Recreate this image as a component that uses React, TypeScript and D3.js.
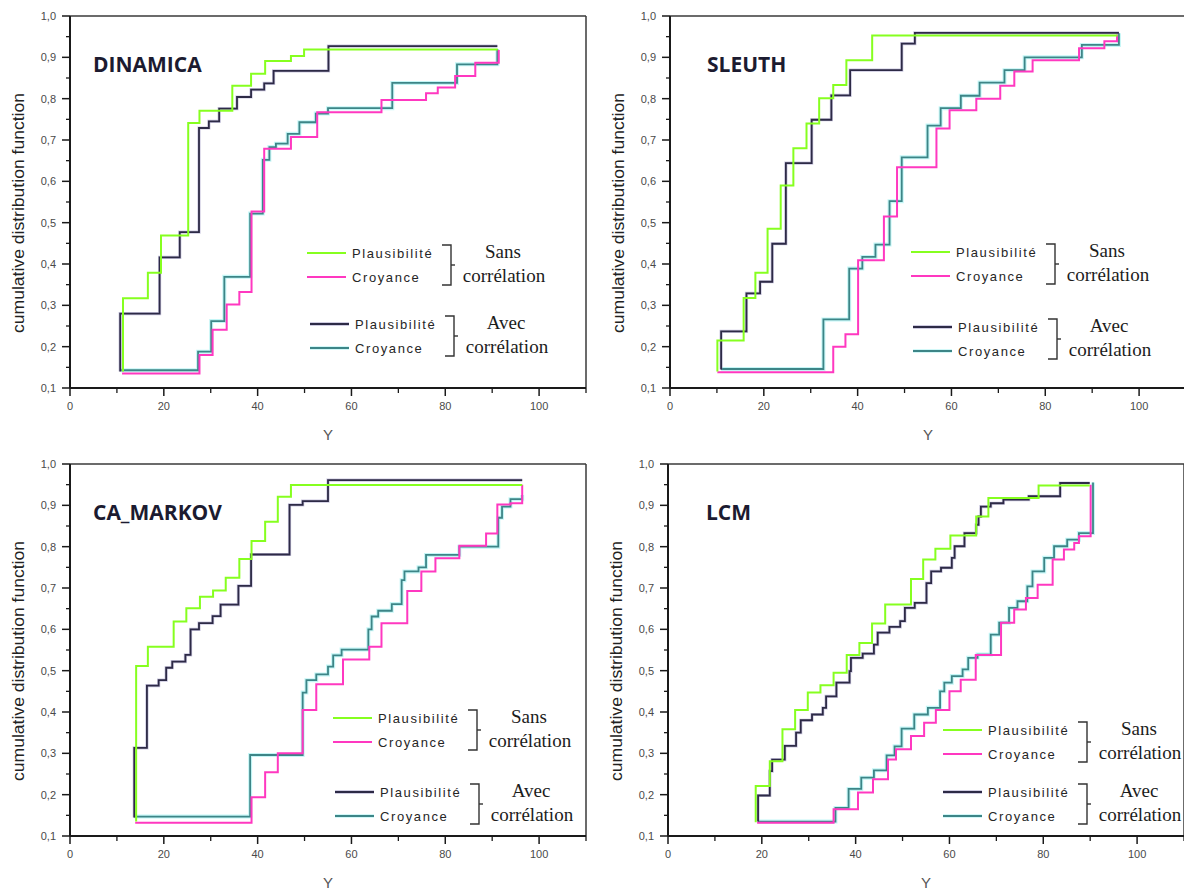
import React from 'react';
import * as d3 from 'd3';

type Pt = [number, number];

// ---- axis ticks ----
const xMajorTicks = [0, 20, 40, 60, 80, 100];
const xMinorTicks = [10, 30, 50, 70, 90, 110];
const yMajorTicks = [0.1, 0.2, 0.3, 0.4, 0.5, 0.6, 0.7, 0.8, 0.9, 1.0];
const yMinorTicks = [0.15, 0.25, 0.35, 0.45, 0.55, 0.65, 0.75, 0.85, 0.95];

// ---- labels ----
const panelTitles = ['DINAMICA', 'SLEUTH', 'CA_MARKOV', 'LCM'];
const seriesNames = ['Plausibilité', 'Croyance'];
const groupLabels = [['Sans', 'corrélation'], ['Avec', 'corrélation']];
const yAxisTitle = 'cumulative distribution function';
const xAxisTitle = 'Y';

// ---- DINAMICA ----
const dinamicaPlausSans: Pt[] = [[11.3, 0.14], [11.3, 0.317], [16.6, 0.379], [19.4, 0.469], [25.2, 0.741], [27.6, 0.771], [34.6, 0.831], [38.6, 0.86], [41.6, 0.891], [47.1, 0.903], [49.9, 0.919], [91.2, 0.919]];
const dinamicaCroySans: Pt[] = [[11.1, 0.135], [27.6, 0.18], [30.4, 0.241], [33.4, 0.302], [36.1, 0.332], [38.7, 0.527], [41.4, 0.679], [47.1, 0.707], [52.7, 0.767], [66.4, 0.797], [75.9, 0.813], [78.4, 0.827], [82.1, 0.855], [86.4, 0.887], [91.4, 0.918]];
const dinamicaPlausAvec: Pt[] = [[10.7, 0.14], [10.7, 0.28], [19.1, 0.416], [23.4, 0.477], [27.5, 0.729], [29.6, 0.745], [31.8, 0.776], [35.6, 0.804], [38.6, 0.822], [41.4, 0.837], [43.4, 0.867], [55.1, 0.927], [91.1, 0.927]];
const dinamicaCroyAvec: Pt[] = [[10.9, 0.143], [27.3, 0.188], [30.1, 0.262], [32.9, 0.369], [38.4, 0.522], [41.1, 0.652], [42.5, 0.683], [43.9, 0.691], [46.4, 0.715], [48.9, 0.743], [52.4, 0.764], [55, 0.777], [68.7, 0.838], [82.5, 0.883], [91.1, 0.92]];

// ---- SLEUTH ----
const sleuthPlausSans: Pt[] = [[10.1, 0.14], [10.1, 0.215], [15.7, 0.318], [18.2, 0.379], [20.8, 0.485], [23.6, 0.59], [26.3, 0.68], [29.1, 0.74], [31.8, 0.801], [34.8, 0.833], [37.6, 0.893], [43.1, 0.953], [95.4, 0.953]];
const sleuthCroySans: Pt[] = [[10.1, 0.138], [34.8, 0.2], [37.4, 0.23], [40.1, 0.409], [45.6, 0.515], [48.4, 0.634], [56.8, 0.728], [59.6, 0.772], [65.3, 0.8], [70.4, 0.831], [73.4, 0.866], [77.3, 0.893], [87.2, 0.922], [92.6, 0.939], [95.3, 0.955]];
const sleuthPlausAvec: Pt[] = [[10.9, 0.145], [10.9, 0.237], [16.3, 0.329], [19.2, 0.357], [21.8, 0.449], [24.7, 0.644], [30.2, 0.749], [34.4, 0.808], [38.4, 0.869], [49.4, 0.933], [52.2, 0.959], [95.7, 0.959]];
const sleuthCroyAvec: Pt[] = [[10.9, 0.146], [32.7, 0.266], [38.2, 0.389], [41.0, 0.417], [43.8, 0.447], [46.8, 0.552], [49.4, 0.658], [54.9, 0.735], [57.7, 0.777], [62.0, 0.807], [66.0, 0.839], [71.3, 0.869], [75.6, 0.9], [87.8, 0.93], [95.7, 0.958]];

// ---- CA_MARKOV ----
const markovPlausSans: Pt[] = [[14.1, 0.135], [14.1, 0.511], [16.6, 0.558], [22.1, 0.619], [24.8, 0.651], [27.7, 0.679], [30.5, 0.694], [33.2, 0.725], [36.1, 0.77], [38.7, 0.814], [41.6, 0.86], [44.3, 0.921], [47.1, 0.949], [96.4, 0.949]];
const markovCroySans: Pt[] = [[13.9, 0.132], [38.7, 0.194], [41.6, 0.254], [44.3, 0.3], [49.6, 0.405], [52.5, 0.467], [58.2, 0.527], [63.8, 0.558], [66.4, 0.615], [71.9, 0.693], [74.9, 0.74], [77.9, 0.772], [83.0, 0.802], [88.7, 0.832], [91.1, 0.902], [93.9, 0.905], [96.4, 0.95]];
const markovPlausAvec: Pt[] = [[13.7, 0.145], [13.7, 0.313], [16.4, 0.464], [18.9, 0.477], [20.5, 0.507], [21.8, 0.522], [24.6, 0.538], [25.7, 0.6], [27.5, 0.615], [30.4, 0.632], [32.1, 0.66], [35.9, 0.705], [38.6, 0.781], [46.8, 0.901], [49.6, 0.91], [55.0, 0.961], [96.4, 0.961]];
const markovCroyAvec: Pt[] = [[13.7, 0.147], [38.4, 0.296], [49.6, 0.447], [50.4, 0.477], [52.5, 0.491], [55.0, 0.51], [56.1, 0.537], [57.9, 0.551], [63.6, 0.6], [64.3, 0.631], [65.7, 0.645], [68.6, 0.661], [70.7, 0.719], [71.3, 0.74], [74.3, 0.75], [75.9, 0.78], [83.0, 0.8], [91.3, 0.87], [92.1, 0.897], [93.9, 0.915], [96.4, 0.925]];

// ---- LCM ----
const lcmPlausSans: Pt[] = [[18.7, 0.133], [18.7, 0.221], [21.7, 0.281], [24.4, 0.358], [27.1, 0.405], [29.8, 0.447], [32.5, 0.465], [35.3, 0.495], [38.1, 0.538], [40.8, 0.567], [43.5, 0.614], [46.3, 0.66], [51.8, 0.722], [54.4, 0.769], [57.0, 0.795], [60.2, 0.827], [65.7, 0.873], [68.3, 0.918], [79.0, 0.948], [89.9, 0.948]];
const lcmCroySans: Pt[] = [[19.0, 0.132], [35.3, 0.165], [40.5, 0.205], [43.7, 0.237], [46.9, 0.285], [48.6, 0.31], [51.8, 0.342], [54.6, 0.374], [57.1, 0.405], [60.0, 0.45], [62.4, 0.478], [65.6, 0.538], [71.0, 0.616], [73.8, 0.648], [76.3, 0.676], [78.8, 0.708], [82.0, 0.769], [84.4, 0.793], [86.6, 0.809], [87.6, 0.825], [90.1, 0.95]];
const lcmPlausAvec: Pt[] = [[19.2, 0.135], [19.2, 0.198], [21.7, 0.257], [22.2, 0.285], [24.9, 0.318], [27.3, 0.35], [28.3, 0.38], [30.7, 0.394], [33.0, 0.41], [33.7, 0.438], [35.9, 0.471], [38.7, 0.499], [39.0, 0.531], [41.5, 0.541], [43.9, 0.563], [44.7, 0.592], [47.2, 0.606], [49.5, 0.62], [50.5, 0.652], [52.6, 0.664], [55.1, 0.712], [56.1, 0.74], [58.2, 0.749], [60.5, 0.773], [61.1, 0.801], [63.2, 0.833], [65.7, 0.853], [66.2, 0.873], [66.7, 0.897], [68.8, 0.905], [71.5, 0.914], [76.9, 0.922], [83.6, 0.954], [89.9, 0.954]];
const lcmCroyAvec: Pt[] = [[19.2, 0.135], [35.7, 0.168], [38.5, 0.214], [41.2, 0.241], [43.9, 0.259], [46.6, 0.295], [48.3, 0.317], [49.8, 0.36], [52.5, 0.394], [55.4, 0.41], [58.0, 0.45], [58.9, 0.471], [60.5, 0.487], [62.8, 0.503], [64.0, 0.531], [66.0, 0.539], [68.8, 0.587], [70.6, 0.616], [72.7, 0.652], [74.5, 0.668], [76.6, 0.704], [77.7, 0.74], [80.2, 0.773], [82.3, 0.801], [85.1, 0.817], [87.6, 0.833], [90.6, 0.955]];

// ---- layout / style (not data) ----
const W = 516;
const H = 372;
const X_DOMAIN: [number, number] = [0, 110];
const Y_DOMAIN: [number, number] = [0.1, 1.0];

const COLORS = {
  plausSans: '#86ff1f',
  croySans: '#ff38c0',
  plausAvec: '#2d2a46',
  croyAvec: '#3d8587',
  croyAvecHalo: '#93eeee',
  plausAvecHalo: '#8a83b8',
};

interface LegendCfg { x: number; y: number; gap2: number; dx2: number; }
interface PanelCfg {
  title: string; ox: number; oy: number; titleX: number;
  plausSans: Pt[]; croySans: Pt[]; plausAvec: Pt[]; croyAvec: Pt[];
  legend: LegendCfg;
}

const panels: PanelCfg[] = [
  { title: panelTitles[0], ox: 70, oy: 16, titleX: 23, plausSans: dinamicaPlausSans, croySans: dinamicaCroySans, plausAvec: dinamicaPlausAvec, croyAvec: dinamicaCroyAvec, legend: { x: 237, y: 237, gap2: 71, dx2: 3 } },
  { title: panelTitles[1], ox: 670, oy: 16, titleX: 37, plausSans: sleuthPlausSans, croySans: sleuthCroySans, plausAvec: sleuthPlausAvec, croyAvec: sleuthCroyAvec, legend: { x: 241, y: 236, gap2: 75, dx2: 2 } },
  { title: panelTitles[2], ox: 70, oy: 464, titleX: 23, plausSans: markovPlausSans, croySans: markovCroySans, plausAvec: markovPlausAvec, croyAvec: markovCroyAvec, legend: { x: 263, y: 254, gap2: 74, dx2: 2 } },
  { title: panelTitles[3], ox: 668, oy: 464, titleX: 38, plausSans: lcmPlausSans, croySans: lcmCroySans, plausAvec: lcmPlausAvec, croyAvec: lcmCroyAvec, legend: { x: 275, y: 266, gap2: 62, dx2: 0 } },
];

const fmtY = (v: number) => v.toFixed(1).replace('.', ',');

function LegendGroup({ x, y, colors, labels, halo }: { x: number; y: number; colors: string[]; labels: string[]; halo?: string[] }) {
  const rowGap = 24;
  const bx = x + 135;
  const top = y - 8;
  const bot = y + rowGap + 8;
  const mid = (top + bot) / 2;
  return (
    <g>
      {[0, 1].map((i) => (
        <g key={i}>
          {halo && halo[i] ? <line x1={x} x2={x + 39} y1={y + i * rowGap} y2={y + i * rowGap} stroke={halo[i]} strokeWidth={3.5} strokeOpacity={0.55} /> : null}
          <line x1={x} x2={x + 39} y1={y + i * rowGap} y2={y + i * rowGap} stroke={colors[i]} strokeWidth={2} />
          <text x={x + 45} y={y + i * rowGap + 5} fontFamily="Liberation Sans, Arial, sans-serif" fontSize={13} letterSpacing={1.6} fill="#262626">{seriesNames[i]}</text>
        </g>
      ))}
      <path d={`M${bx},${top} H${bx + 9} V${bot} H${bx}`} fill="none" stroke="#333" strokeWidth={1.4} />
      <line x1={bx + 9} x2={bx + 13} y1={mid} y2={mid} stroke="#333" strokeWidth={1.4} />
      <text x={x + 196} y={y + 5} textAnchor="middle" fontFamily="Liberation Serif, Times New Roman, serif" fontSize={19} fill="#1c1c1c">{labels[0]}</text>
      <text x={x + 197} y={y + rowGap + 5} textAnchor="middle" fontFamily="Liberation Serif, Times New Roman, serif" fontSize={19} fill="#1c1c1c">{labels[1]}</text>
    </g>
  );
}

function Panel({ cfg }: { cfg: PanelCfg }) {
  const x = d3.scaleLinear().domain(X_DOMAIN).range([0, W]);
  const y = d3.scaleLinear().domain(Y_DOMAIN).range([H, 0]);
  const line = d3.line<Pt>().x((d) => x(d[0])).y((d) => y(d[1])).curve(d3.curveStepAfter);
  const lg = cfg.legend;
  return (
    <g transform={`translate(${cfg.ox},${cfg.oy})`}>
      {/* frame */}
      <line x1={0} x2={W} y1={0} y2={0} stroke="#3a3a3a" strokeWidth={1.5} />
      <line x1={W} x2={W} y1={0} y2={H} stroke="#3a3a3a" strokeWidth={1.5} />
      {/* curves */}
      <path d={line(cfg.croyAvec) || ''} fill="none" stroke={COLORS.croyAvecHalo} strokeWidth={4} strokeOpacity={0.55} />
      <path d={line(cfg.croyAvec) || ''} fill="none" stroke={COLORS.croyAvec} strokeWidth={1.8} />
      <path d={line(cfg.croySans) || ''} fill="none" stroke={COLORS.croySans} strokeWidth={2} />
      <path d={line(cfg.plausAvec) || ''} fill="none" stroke={COLORS.plausAvecHalo} strokeWidth={3.2} strokeOpacity={0.45} />
      <path d={line(cfg.plausAvec) || ''} fill="none" stroke={COLORS.plausAvec} strokeWidth={1.8} />
      <path d={line(cfg.plausSans) || ''} fill="none" stroke={COLORS.plausSans} strokeWidth={2} />
      {/* axes */}
      <line x1={0} x2={0} y1={0} y2={H} stroke="#1a1a1a" strokeWidth={2} />
      <line x1={0} x2={W} y1={H} y2={H} stroke="#1a1a1a" strokeWidth={2} />
      {yMajorTicks.map((t) => (
        <g key={'ym' + t}>
          <line x1={-8} x2={0} y1={y(t)} y2={y(t)} stroke="#1a1a1a" strokeWidth={1.5} />
          <text x={-14} y={y(t)} dy="0.35em" textAnchor="end" fontFamily="Liberation Sans, Arial, sans-serif" fontSize={11} fill="#4a4a4a">{fmtY(t)}</text>
        </g>
      ))}
      {yMinorTicks.map((t) => (
        <line key={'yn' + t} x1={-4} x2={0} y1={y(t)} y2={y(t)} stroke="#1a1a1a" strokeWidth={1.3} />
      ))}
      {xMajorTicks.map((t) => (
        <g key={'xm' + t}>
          <line x1={x(t)} x2={x(t)} y1={H} y2={H + 8} stroke="#1a1a1a" strokeWidth={1.5} />
          <text x={x(t)} y={H + 22} textAnchor="middle" fontFamily="Liberation Sans, Arial, sans-serif" fontSize={11} fill="#4a4a4a">{t}</text>
        </g>
      ))}
      {xMinorTicks.map((t) => (
        <line key={'xn' + t} x1={x(t)} x2={x(t)} y1={H} y2={H + 5} stroke="#1a1a1a" strokeWidth={1.3} />
      ))}
      {/* axis titles */}
      <text x={x(55)} y={H + 52} textAnchor="middle" fontFamily="Liberation Sans, Arial, sans-serif" fontSize={15} fill="#555">{xAxisTitle}</text>
      <text transform={`translate(-46,197) rotate(-90)`} textAnchor="middle" fontFamily="Liberation Sans, Arial, sans-serif" fontSize={16} textLength={240} lengthAdjust="spacingAndGlyphs" fill="#222">{yAxisTitle}</text>
      {/* panel title */}
      <text x={cfg.titleX} y={56} fontFamily="Open Sans, sans-serif" fontWeight="bold" fontSize={21} fill="#1c1b30">{cfg.title}</text>
      {/* legend */}
      <LegendGroup x={lg.x} y={lg.y} colors={[COLORS.plausSans, COLORS.croySans]} labels={groupLabels[0]} />
      <LegendGroup x={lg.x + lg.dx2} y={lg.y + lg.gap2} colors={[COLORS.plausAvec, COLORS.croyAvec]} labels={groupLabels[1]} halo={[COLORS.plausAvecHalo, COLORS.croyAvecHalo]} />
    </g>
  );
}

export default function App() {
  return (
    <svg width={1184} height={890} style={{ position: 'absolute', left: 0, top: 0, background: '#fff' }}>
      <rect x={0} y={0} width={1184} height={890} fill="#fff" />
      {panels.map((p) => (
        <Panel key={p.title} cfg={p} />
      ))}
    </svg>
  );
}
